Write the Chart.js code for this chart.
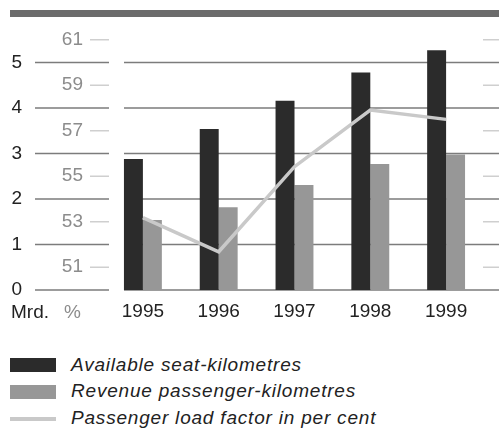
<!DOCTYPE html>
<html>
<head>
<meta charset="utf-8">
<script src="https://cdn.jsdelivr.net/npm/chart.js@4/dist/chart.umd.min.js"></script>
<style>
  html, body { margin: 0; padding: 0; background: #fff; }
  body { width: 499px; height: 430px; position: relative; overflow: hidden;
         font-family: 'Liberation Sans', Arial, sans-serif; }
  #topRule { position: absolute; left: 10px; top: 10px; width: 489px; height: 7px; background: #6b6b6b; }
  #wrap { position: absolute; left: 0; top: 0; width: 499px; height: 330px; }
  .sw { position: absolute; left: 10px; width: 46px; }
  .txt { position: absolute; left: 71px; font-size: 19px; line-height: 19px; font-style: italic;
         color: #222; letter-spacing: 0.8px; white-space: nowrap; }
</style>
</head>
<body>
<div id="topRule"></div>
<div id="wrap"><canvas id="c" width="499" height="330"></canvas></div>
<div id="legend"></div>
<script>
// Years on the category axis
const categories = ['1995', '1996', '1997', '1998', '1999'];
// Billions of kilometres
const seatKm = [2.88, 3.54, 4.16, 4.78, 5.27];
const passengerKm = [1.54, 1.82, 2.31, 2.77, 2.98];
// Per cent
const loadFactor = [53.18, 51.68, 55.42, 57.91, 57.50];
// Tick labels of the two value axes
const countTicks = [0, 1, 2, 3, 4, 5];
const pctTicks = [51, 53, 55, 57, 59, 61];

const seriesNames = ['Available seat-kilometres', 'Revenue passenger-kilometres', 'Passenger load factor in per cent'];
const colors = { seat: '#2b2b2b', pax: '#979797', load: '#c9c9c9', grid: '#7c7c7c', pctTick: '#cfcfcf', pctText: '#8c8c8c', text: '#222' };

Chart.defaults.font.family = "'Liberation Sans', Arial, sans-serif";
Chart.defaults.font.size = 19;
Chart.defaults.color = colors.text;

// Gridlines with a gap before the first bar, and the short per-cent ticks
const guides = {
  id: 'guides',
  beforeDatasetsDraw(chart) {
    const { ctx, chartArea } = chart;
    const y = chart.scales.y, y1 = chart.scales.y1;
    ctx.save();
    ctx.lineWidth = 1.6;
    ctx.strokeStyle = colors.grid;
    countTicks.forEach(v => {
      const p = y.getPixelForValue(v);
      ctx.beginPath();
      ctx.moveTo(35, p); ctx.lineTo(chartArea.left + 4, p);
      ctx.moveTo(chartArea.left + 19, p); ctx.lineTo(chart.width, p);
      ctx.stroke();
    });
    ctx.strokeStyle = colors.pctTick;
    ctx.lineWidth = 1.4;
    pctTicks.forEach(v => {
      const p = y1.getPixelForValue(v);
      ctx.beginPath();
      ctx.moveTo(chartArea.left - 15, p); ctx.lineTo(chartArea.left + 4, p);
      ctx.moveTo(chartArea.right - 1, p); ctx.lineTo(chart.width, p);
      ctx.stroke();
    });
    ctx.restore();
  },
  afterDraw(chart) {
    const { ctx } = chart;
    const base = chart.scales.x.top + 28;
    ctx.save();
    ctx.font = "19px 'Liberation Sans', Arial, sans-serif";
    ctx.textBaseline = 'alphabetic';
    ctx.textAlign = 'left';
    ctx.fillStyle = colors.text;
    ctx.fillText('Mrd.', 11, base);
    ctx.fillStyle = colors.pctText;
    ctx.fillText('%', 64, base);
    ctx.restore();
  }
};

new Chart(document.getElementById('c'), {
  data: {
    labels: categories,
    datasets: [
      { type: 'bar', label: seriesNames[0], data: seatKm, backgroundColor: colors.seat, yAxisID: 'y', order: 1,
        categoryPercentage: 0.5, barPercentage: 1.0 },
      { type: 'bar', label: seriesNames[1], data: passengerKm, backgroundColor: colors.pax, yAxisID: 'y', order: 1,
        categoryPercentage: 0.5, barPercentage: 1.0 },
      { type: 'line', label: seriesNames[2], data: loadFactor, borderColor: colors.load, borderWidth: 3.5,
        pointRadius: 0, tension: 0, fill: false, yAxisID: 'y1', order: 0 }
    ]
  },
  options: {
    responsive: false,
    animation: false,
    events: [],
    layout: { padding: { top: 39.75, right: 15, bottom: 0, left: 0 } },
    plugins: { legend: { display: false }, tooltip: { enabled: false } },
    scales: {
      x: {
        offset: true,
        grid: { display: false, drawTicks: false },
        border: { display: false },
        ticks: { padding: 10, color: colors.text, font: { size: 19 } },
        afterFit(s) { s.height = 40; }
      },
      y: {
        position: 'left', weight: 1, min: 0, max: 5.5,
        grid: { display: false, drawTicks: false },
        border: { display: false },
        afterBuildTicks(s) { s.ticks = countTicks.map(v => ({ value: v })); },
        ticks: { padding: 8, color: colors.text, font: { size: 19 } },
        afterFit(s) { s.width = 30; }
      },
      y1: {
        position: 'left', weight: 0, min: 50, max: 61,
        grid: { display: false, drawTicks: false },
        border: { display: false },
        afterBuildTicks(s) { s.ticks = pctTicks.map(v => ({ value: v })); },
        ticks: { padding: 22, color: colors.pctText, font: { size: 19 } },
        afterFit(s) { s.width = 75; }
      }
    }
  },
  plugins: [guides]
});

// Legend below the plot
const legendRows = [
  { name: seriesNames[0], color: colors.seat, top: 358, h: 14, textTop: 355 },
  { name: seriesNames[1], color: colors.pax, top: 385, h: 14, textTop: 381 },
  { name: seriesNames[2], color: colors.load, top: 416.5, h: 4, textTop: 408 }
];
const legend = document.getElementById('legend');
legendRows.forEach(r => {
  const sw = document.createElement('div');
  sw.className = 'sw';
  sw.style.top = r.top + 'px';
  sw.style.height = r.h + 'px';
  sw.style.background = r.color;
  const t = document.createElement('div');
  t.className = 'txt';
  t.style.top = r.textTop + 'px';
  t.textContent = r.name;
  legend.appendChild(sw);
  legend.appendChild(t);
});
</script>
</body>
</html>
